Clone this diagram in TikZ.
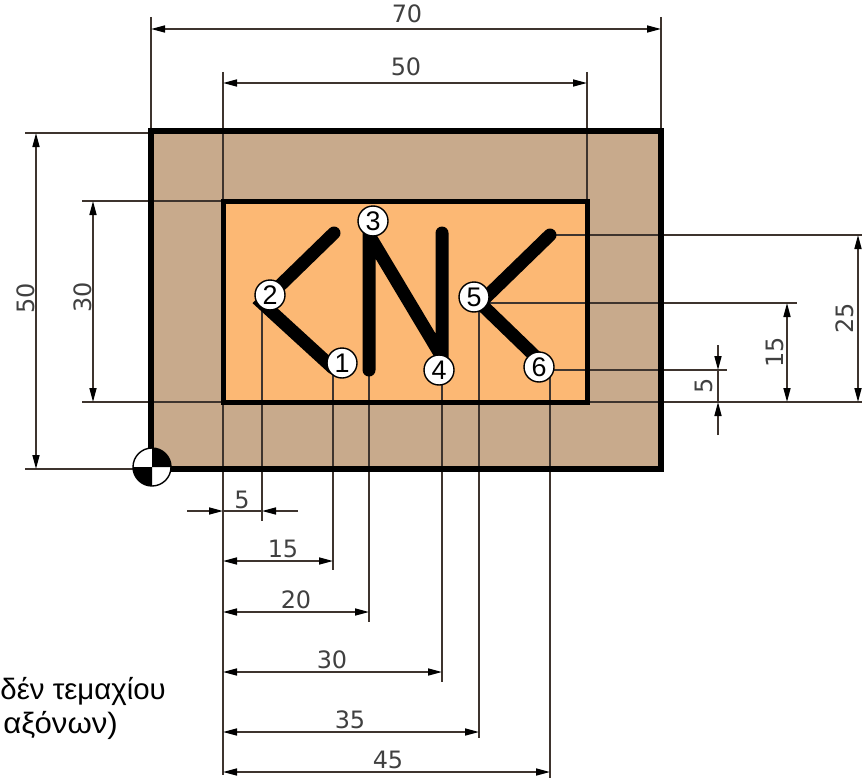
\documentclass[tikz,border=0pt]{standalone}
\usepackage{fontspec}
\setmainfont{Liberation Sans}
\newfontfamily\dimfont{DejaVu Sans}
\usetikzlibrary{arrows.meta}
\definecolor{outerfill}{RGB}{200,170,140}
\definecolor{innerfill}{RGB}{252,184,116}
\definecolor{dimcol}{RGB}{62,52,46}
\tikzset{
  plate/.style={line width=6bp,draw=black,fill=outerfill,line join=miter},
  pocket/.style={line width=5bp,draw=black,fill=innerfill,line join=miter},
  extline/.style={line width=1.6bp,draw=dimcol},
  dimline/.style={line width=1.6bp,draw=dimcol,{Triangle[length=14bp,width=7bp,color=black]}-{Triangle[length=14bp,width=7bp,color=black]}},
  tiphead/.style={line width=1.6bp,draw=dimcol,-{Triangle[length=14bp,width=7bp,color=black]}},
  contour/.style={line width=13bp,draw=black,line cap=round,line join=miter},
  pointmark/.style={circle,draw=black,fill=white,line width=1.4bp,minimum size=30bp,inner sep=0pt,font=\fontsize{27}{27}\selectfont},
  dimtext/.style={font=\dimfont\fontsize{24}{24}\selectfont,text=black!75,inner sep=0pt},
  note/.style={anchor=base east,font=\fontsize{29.5}{32}\selectfont,inner sep=0pt}
}
\begin{document}
\begin{tikzpicture}[x=1bp,y=-1bp]
\useasboundingbox (0,0) rectangle (862,781);
\clip (0,0) rectangle (862,781);
% part and pocket
\draw[plate] (151,131) rectangle (661,469);
\draw[pocket] (223,201) rectangle (587,402);
% key points
\coordinate (P1) at (333,368);
\coordinate (P2) at (262,303);
\coordinate (Pa) at (334,233);
\coordinate (P3) at (369,235);
\coordinate (Pb) at (369,370);
\coordinate (P4) at (442,357);
\coordinate (Pc) at (442,233);
\coordinate (P5) at (480,303);
\coordinate (Pd) at (550,235);
\coordinate (P6) at (540,361);
\coordinate (E6) at (550,370);
% extension lines
\draw[extline] (151,17) -- (151,131);
\draw[extline] (661,17) -- (661,131);
\draw[extline] (223,72) -- (223,775);
\draw[extline] (587,72) -- (587,201);
\draw[extline] (25,133) -- (151,133);
\draw[extline] (25,469) -- (151,469);
\draw[extline] (82,201) -- (223,201);
\draw[extline] (82,402) -- (223,402);
\draw[extline] (587,402) -- (862,402);
\draw[extline] (Pd) -- (862,235);
\draw[extline] (P5) -- (797,303);
\draw[extline] (E6) -- (727,370);
\draw[extline] (P2) -- (262,521);
\draw[extline] (P1) -- (333,570);
\draw[extline] (Pb) -- (369,622);
\draw[extline] (442,370) -- (442,682);
\draw[extline] (479,303) -- (479,738);
\draw[extline] (E6) -- (550,778);
% dimension lines
\draw[dimline] (151,29) -- (661,29);
\draw[dimline] (223,83) -- (587,83);
\draw[dimline] (36,133) -- (36,469);
\draw[dimline] (93,201) -- (93,402);
\draw[dimline] (858,235) -- (858,402);
\draw[dimline] (787,303) -- (787,402);
\draw[tiphead] (718,345) -- (718,370);
\draw[tiphead] (718,435) -- (718,402);
\draw[extline] (718,370) -- (718,402);
\draw[tiphead] (187,511) -- (223,511);
\draw[tiphead] (298,511) -- (262,511);
\draw[extline] (223,511) -- (262,511);
\draw[dimline] (223,561) -- (333,561);
\draw[dimline] (223,612) -- (369,612);
\draw[dimline] (223,672) -- (442,672);
\draw[dimline] (223,732) -- (479,732);
\draw[dimline] (223,772) -- (550,772);
% contour
\draw[contour] (Pa) -- (P2) -- (P1);
\draw[contour] (Pb) -- (P3) -- (P4) -- (Pc);
\draw[contour] (Pd) -- (P5) -- (P6);
% outlines kept on top of the extension lines
\draw[line width=6bp,black] (151,131) rectangle (661,469);
\draw[line width=5bp,black] (223,201) rectangle (587,402);
% part zero symbol
\coordinate (Z) at (152,467);
\fill[white] (Z) circle (19);
\fill[black] (Z) -- (171,467) arc[start angle=0,end angle=-90,radius=19] -- cycle;
\fill[black] (Z) -- (133,467) arc[start angle=180,end angle=90,radius=19] -- cycle;
\draw[black,line width=1.4bp] (Z) circle (19);
% numbered points
\node[pointmark] (n1) at (342,363) {1};
\node[pointmark] (n2) at (270,295) {2};
\node[pointmark] (n3) at (373,221) {3};
\node[pointmark] (n4) at (439,370) {4};
\node[pointmark] (n5) at (474,297) {5};
\node[pointmark] (n6) at (539,367) {6};
% dimension texts
\node[dimtext] (d70) at (407,14) {70};
\node[dimtext] (d50t) at (406,67) {50};
\node[dimtext,rotate=90] (d50l) at (26,298) {50};
\node[dimtext,rotate=90] (d30l) at (83,297) {30};
\node[dimtext,rotate=90] (d25) at (845,318) {25};
\node[dimtext,rotate=90] (d15r) at (775,352) {15};
\node[dimtext,rotate=90] (d5r) at (704,386) {5};
\node[dimtext] (d5) at (242,500) {5};
\node[dimtext] (d15) at (283,549) {15};
\node[dimtext] (d20) at (296,600) {20};
\node[dimtext] (d30) at (332,660) {30};
\node[dimtext] (d35) at (350,720) {35};
\node[dimtext] (d45) at (388,760) {45};
% note
\node[note] (t1) at (166,699) {δέν τεμαχίου};
\node[note,xscale=1.06] (t2) at (118,733) {αξόνων)};
\end{tikzpicture}
\end{document}
